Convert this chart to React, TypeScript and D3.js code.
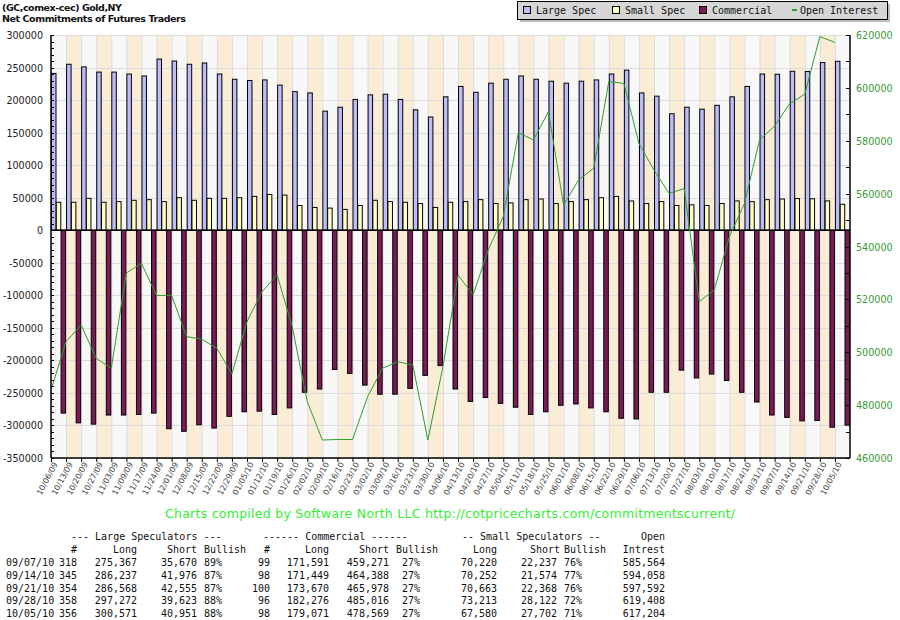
import React, { useRef, useEffect } from "react";
import * as d3 from "d3";

const W = 900;
const H = 620;
const plot = { left: 51, right: 850, top: 35, bottom: 458 };

const dates = [
  "10/06/09", "10/13/09", "10/20/09", "10/27/09", "11/03/09", "11/09/09", "11/17/09", "11/24/09",
  "12/01/09", "12/08/09", "12/15/09", "12/22/09", "12/29/09", "01/05/10", "01/12/10", "01/19/10",
  "01/26/10", "02/02/10", "02/09/10", "02/16/10", "02/23/10", "03/02/10", "03/09/10", "03/16/10",
  "03/23/10", "03/30/10", "04/06/10", "04/13/10", "04/20/10", "04/27/10", "05/04/10", "05/11/10",
  "05/18/10", "05/25/10", "06/01/10", "06/08/10", "06/15/10", "06/22/10", "06/29/10", "07/06/10",
  "07/13/10", "07/20/10", "07/27/10", "08/03/10", "08/10/10", "08/17/10", "08/24/10", "08/31/10",
  "09/07/10", "09/14/10", "09/21/10", "09/28/10", "10/05/10",
];

const largeSpec = [
  241000, 255000, 251000, 243000, 243000, 240000, 237000, 263000, 260000, 255000, 257000, 240000,
  232000, 230000, 231000, 223000, 213000, 211000, 183000, 189000, 201000, 208000, 209000, 201000,
  185000, 174000, 205000, 221000, 212000, 226000, 232000, 237000, 232000, 229000, 226000, 229000,
  231000, 240000, 246000, 211000, 206000, 179000, 189000, 186000, 192000, 205000, 221000, 240000,
  239697, 244261, 244013, 257649, 259620,
];

const smallSpec = [
  43000, 43000, 49000, 43000, 44000, 46000, 47000, 44000, 50000, 46000, 49000, 49000,
  50000, 52000, 55000, 54000, 38000, 35000, 34000, 32000, 38000, 46000, 44000, 43000,
  41000, 35000, 43000, 44000, 47000, 41000, 42000, 47000, 48000, 41000, 44000, 47000,
  50000, 52000, 45000, 41000, 44000, 38000, 39000, 38000, 41000, 45000, 44000, 47000,
  47983, 48678, 48295, 45091, 39878,
];

const commercial = [
  -281000, -296000, -298000, -284000, -284000, -283000, -281000, -305000, -309000, -299000, -304000, -286000,
  -279000, -278000, -283000, -273000, -249000, -244000, -214000, -220000, -238000, -252000, -252000, -243000,
  -223000, -208000, -244000, -263000, -257000, -266000, -272000, -283000, -279000, -269000, -267000, -273000,
  -279000, -289000, -290000, -249000, -249000, -215000, -227000, -221000, -231000, -249000, -264000, -284000,
  -287680, -292939, -292308, -302740, -299498,
];

const openInterest = [
  485700, 504000, 510300, 497700, 494000, 530000, 533600, 521500, 521500, 505900, 504900, 501500,
  491800, 511600, 522900, 529200, 509700, 481300, 466800, 467000, 467000, 483200, 494000, 496400,
  495200, 466800, 494600, 529200, 521700, 538700, 551300, 583100, 580300, 591000, 555700, 565200,
  569600, 602400, 601700, 579000, 568900, 560100, 561900, 519100, 523600, 543700, 556300, 580300,
  585564, 594058, 597592, 619408, 617204,
];

const leftTicks = [300000, 250000, 200000, 150000, 100000, 50000, 0, -50000, -100000, -150000, -200000, -250000, -300000, -350000];
const rightTicks = [620000, 600000, 580000, 560000, 540000, 520000, 500000, 480000, 460000];

const seriesKeys = ["Large Spec", "Small Spec", "Commercial"];
const seriesColors = ["#bcbcf8", "#ffffc4", "#7c1a58"];
const oiColor = "#2e9e2e";

const tableHeader1 = [
  { text: "--- Large Speculators ---", x: 71, anchor: "start" },
  { text: "------ Commercial ------", x: 263, anchor: "start" },
  { text: "-- Small Speculators --", x: 462, anchor: "start" },
  { text: "Open", x: 665, anchor: "end" },
];
const tableHeader2 = [
  { text: "#", x: 77, anchor: "end" },
  { text: "Long", x: 137, anchor: "end" },
  { text: "Short", x: 197, anchor: "end" },
  { text: "Bullish", x: 204, anchor: "start" },
  { text: "#", x: 270, anchor: "end" },
  { text: "Long", x: 329, anchor: "end" },
  { text: "Short", x: 389, anchor: "end" },
  { text: "Bullish", x: 396, anchor: "start" },
  { text: "Long", x: 497, anchor: "end" },
  { text: "Short", x: 560, anchor: "end" },
  { text: "Bullish", x: 564, anchor: "start" },
  { text: "Intrest", x: 665, anchor: "end" },
];
const tableRows = [
  ["09/07/10", "318", "275,367", "35,670", "89%", "99", "171,591", "459,271", "27%", "70,220", "22,237", "76%", "585,564"],
  ["09/14/10", "345", "286,237", "41,976", "87%", "98", "171,449", "464,388", "27%", "70,252", "21,574", "77%", "594,058"],
  ["09/21/10", "354", "286,568", "42,555", "87%", "100", "173,670", "465,978", "27%", "70,663", "22,368", "76%", "597,592"],
  ["09/28/10", "358", "297,272", "39,623", "88%", "96", "182,276", "485,016", "27%", "73,213", "28,122", "72%", "619,408"],
  ["10/05/10", "356", "300,571", "40,951", "88%", "98", "179,071", "478,569", "27%", "67,580", "27,702", "71%", "617,204"],
];
const rowCols = [
  { x: 6, anchor: "start" }, { x: 77, anchor: "end" }, { x: 137, anchor: "end" }, { x: 197, anchor: "end" },
  { x: 204, anchor: "start" }, { x: 270, anchor: "end" }, { x: 329, anchor: "end" }, { x: 389, anchor: "end" },
  { x: 402, anchor: "start" }, { x: 497, anchor: "end" }, { x: 557, anchor: "end" }, { x: 564, anchor: "start" },
  { x: 665, anchor: "end" },
];

const App = () => {
  const ref = useRef<SVGSVGElement>(null);

  useEffect(() => {
    document.body.style.margin = "0";
    const svg = d3.select(ref.current);
    svg.selectAll("*").remove();

    const x = d3.scaleBand().domain(dates).range([plot.left, plot.right]).padding(0);
    const bw = x.bandwidth();
    const x1 = d3.scaleBand().domain(seriesKeys).range([0, bw - 1]).paddingInner(0.06);
    const y = d3.scaleLinear().domain([-350000, 300000]).range([plot.bottom, plot.top]);
    const yR = d3.scaleLinear().domain([460000, 620000]).range([plot.bottom, plot.top]);

    svg.append("rect").attr("width", W).attr("height", H).attr("fill", "#fff");

    // alternating bands
    svg.append("g").selectAll("rect").data(dates).enter().append("rect")
      .attr("x", (d) => x(d)!).attr("y", plot.top)
      .attr("width", bw).attr("height", plot.bottom - plot.top)
      .attr("fill", (d, i) => (i % 2 ? "#fbecd6" : "#f8f8f8"));

    // grid
    const grid = svg.append("g").attr("stroke", "#dcdcdc").attr("stroke-width", 1);
    dates.forEach((d) => {
      grid.append("line").attr("x1", x(d)! + 0.5).attr("x2", x(d)! + 0.5)
        .attr("y1", plot.top).attr("y2", plot.bottom);
    });
    leftTicks.forEach((t) => {
      grid.append("line").attr("x1", plot.left).attr("x2", plot.right)
        .attr("y1", Math.round(y(t)) + 0.5).attr("y2", Math.round(y(t)) + 0.5);
    });

    // bars
    const groups = svg.append("g").selectAll("g").data(dates).enter().append("g")
      .attr("transform", (d) => `translate(${x(d)},0)`);
    const vals = [largeSpec, smallSpec, commercial];
    seriesKeys.forEach((k, s) => {
      groups.append("rect")
        .attr("x", x1(k)! + 0.5)
        .attr("y", (d, i) => Math.min(y(vals[s][i]), y(0)))
        .attr("width", x1.bandwidth())
        .attr("height", (d, i) => Math.abs(y(vals[s][i]) - y(0)))
        .attr("fill", seriesColors[s])
        .attr("stroke", "#000").attr("stroke-width", 1);
    });

    // zero line
    svg.append("line").attr("x1", plot.left).attr("x2", plot.right)
      .attr("y1", y(0)).attr("y2", y(0)).attr("stroke", "#000").attr("stroke-width", 1.5);

    // open interest line
    const line = d3.line<number>().x((d, i) => x(dates[i])!).y((d) => yR(d));
    svg.append("path").datum(openInterest).attr("d", line)
      .attr("fill", "none").attr("stroke", oiColor).attr("stroke-width", 1);

    // axes frame
    const axes = svg.append("g").attr("stroke", "#000").attr("stroke-width", 1.5);
    axes.append("line").attr("x1", plot.left).attr("x2", plot.left).attr("y1", plot.top).attr("y2", plot.bottom);
    axes.append("line").attr("x1", plot.right).attr("x2", plot.right).attr("y1", plot.top).attr("y2", plot.bottom);
    axes.append("line").attr("x1", plot.left).attr("x2", plot.right).attr("y1", plot.bottom).attr("y2", plot.bottom);

    const tk = svg.append("g").attr("stroke", "#000").attr("stroke-width", 1);
    d3.range(-350000, 300001, 10000).forEach((t) => {
      const yy = Math.round(y(t)) + 0.5;
      tk.append("line").attr("x1", plot.left).attr("x2", plot.left + 3).attr("y1", yy).attr("y2", yy);
    });
    d3.range(460000, 620001, 10000).forEach((t) => {
      const yy = Math.round(yR(t)) + 0.5;
      tk.append("line").attr("x1", plot.right - 4).attr("x2", plot.right).attr("y1", yy).attr("y2", yy);
    });
    dates.forEach((d) => {
      tk.append("line").attr("x1", x(d)! + 0.5).attr("x2", x(d)! + 0.5)
        .attr("y1", plot.bottom).attr("y2", plot.bottom + 4);
    });

    // axis labels
    svg.append("g").selectAll("text").data(leftTicks).enter().append("text")
      .attr("x", 43).attr("y", (d) => y(d) + 4).attr("text-anchor", "end")
      .attr("font-family", "DejaVu Sans").attr("font-size", 9.6).attr("fill", "#222")
      .text((d) => String(d));
    svg.append("g").selectAll("text").data(rightTicks).enter().append("text")
      .attr("x", 856).attr("y", (d) => yR(d) + 4)
      .attr("font-family", "DejaVu Sans").attr("font-size", 9.6).attr("fill", "#3a9a3a")
      .text((d) => String(d));
    svg.append("g").selectAll("text").data(dates).enter().append("text")
      .attr("transform", (d) => `translate(${x(d)! + 7},${plot.bottom + 6}) rotate(-62)`)
      .attr("text-anchor", "end")
      .attr("font-family", "DejaVu Sans").attr("font-size", 8).attr("fill", "#444")
      .text((d) => d);

    // title
    const title = svg.append("g").attr("font-family", "DejaVu Sans").attr("font-weight", "bold")
      .attr("font-size", 9.5).attr("fill", "#111");
    title.append("text").attr("x", 2).attr("y", 11).attr("textLength", 120).text("(GC,comex-cec) Gold,NY");
    title.append("text").attr("x", 2).attr("y", 22).attr("textLength", 184).text("Net Commitments of Futures Traders");

    // legend
    svg.append("rect").attr("x", 520).attr("y", 4).attr("width", 370).attr("height", 18).attr("fill", "#bdbdbd");
    svg.append("rect").attr("x", 517.5).attr("y", 1.5).attr("width", 370).attr("height", 18)
      .attr("fill", "#d6d6d6").attr("stroke", "#000");
    const leg = svg.append("g").attr("font-family", "DejaVu Sans Mono").attr("font-size", 10).attr("fill", "#111");
    const legX = [523, 612, 699];
    seriesKeys.forEach((k, s) => {
      leg.append("rect").attr("x", legX[s] + 0.5).attr("y", 6.5).attr("width", 7).attr("height", 7)
        .attr("fill", seriesColors[s]).attr("stroke", "#000");
      leg.append("text").attr("x", legX[s] + 13).attr("y", 14).text(k);
    });
    leg.append("line").attr("x1", 792).attr("x2", 797).attr("y1", 10).attr("y2", 10)
      .attr("stroke", oiColor).attr("stroke-width", 2);
    leg.append("text").attr("x", 800).attr("y", 14).text("Open Interest");

    // footer
    svg.append("text").attr("x", 165).attr("y", 518).attr("textLength", 570)
      .attr("font-family", "DejaVu Sans").attr("font-size", 12.5).attr("fill", "#33ee33")
      .text("Charts compiled by Software North LLC  http://cotpricecharts.com/commitmentscurrent/");

    // table
    const tbl = svg.append("g").attr("font-family", "DejaVu Sans Mono").attr("font-size", 10).attr("fill", "#111")
      .attr("xml:space", "preserve");
    tableHeader1.forEach((h) => {
      tbl.append("text").attr("x", h.x).attr("y", 540).attr("text-anchor", h.anchor).text(h.text);
    });
    tableHeader2.forEach((h) => {
      tbl.append("text").attr("x", h.x).attr("y", 553).attr("text-anchor", h.anchor).text(h.text);
    });
    tableRows.forEach((row, r) => {
      row.forEach((cell, c) => {
        tbl.append("text").attr("x", rowCols[c].x).attr("y", 566 + r * 12.8)
          .attr("text-anchor", rowCols[c].anchor).text(cell);
      });
    });
  }, []);

  return (
    <svg ref={ref} width={W} height={H} style={{ position: "absolute", left: 0, top: 0 }}></svg>
  );
};

export default App;
